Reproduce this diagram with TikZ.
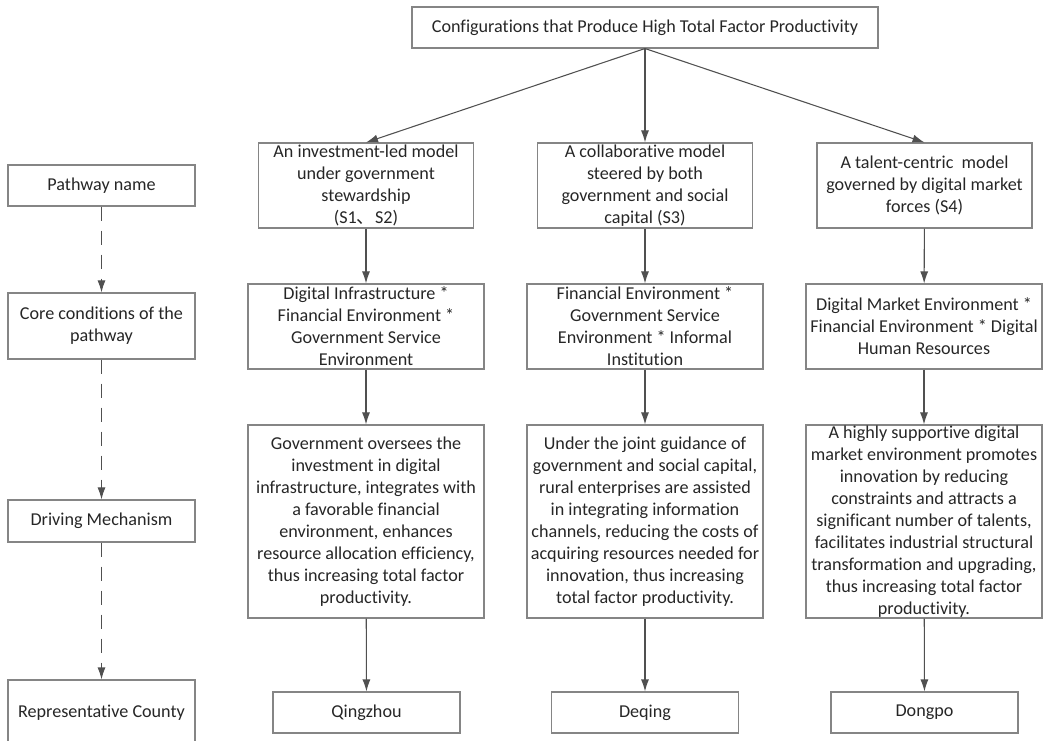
\documentclass[tikz,border=0pt]{standalone}
\usepackage{fontspec}
\setmainfont{Carlito}[Ligatures={CommonOff}]
\newfontfamily\cjk{Noto Sans CJK SC}
\usepackage{tikz}
\usetikzlibrary{arrows.meta,positioning}

\definecolor{boxgray}{HTML}{858585}
\definecolor{linegray}{HTML}{505050}
\definecolor{textgray}{HTML}{262626}

\tikzset{
    cell/.style 2 args={draw=boxgray, line width=0.8pt, align=center, inner xsep=1pt, inner ysep=0pt,
        text=textgray, font=\fontsize{13.6}{16.5}\selectfont,
        minimum width=#1*0.75pt, minimum height=#2*0.75pt},
    link/.style={->, draw=linegray, line width=0.8pt},
    guide/.style={link, dash pattern=on 11pt off 7pt}
}

\begin{document}
\begin{tikzpicture}[x=0.75pt, y=-0.75pt, >={Latex[length=9pt,width=6pt]}]
    \useasboundingbox (0,0) rectangle (1043,741);
    \path
    % title
    (645,27.5) node[cell={466}{41}] (top) {Configurations that Produce High Total Factor Productivity}
    % left column
    (101.5,185.5) node[cell={187}{41}] (name) {Pathway name}
    (101.5,326)   node[cell={187}{66}] (core) {Core conditions of the\\pathway}
    (101.5,521)   node[cell={187}{42}] (mech) {Driving Mechanism}
    (101.5,712.5) node[cell={187}{65}] (county) {Representative County}
    % pathway names
    (366,185.5) node[cell={215}{85}] (p1) {An investment-led model\\under government\\stewardship\\(S1{\cjk 、}S2)}
    (645,185.5) node[cell={215}{85}] (p2) {A collaborative model\\steered by both\\government and social\\capital (S3)}
    (924.5,185.5) node[cell={215}{85}] (p3) {A talent-centric\ \ model\\governed by digital market\\forces (S4)}
    % core conditions
    (366,326.5) node[cell={236}{85}] (c1) {Digital Infrastructure *\\Financial Environment *\\Government Service\\Environment}
    (645,326.5) node[cell={236}{85}] (c2) {Financial Environment *\\Government Service\\Environment * Informal\\Institution}
    (924,326.5) node[cell={236}{85}] (c3) {Digital Market Environment *\\Financial Environment * Digital\\Human Resources}
    % driving mechanisms
    (366,521.5) node[cell={236}{193}] (m1) {Government oversees the\\investment in digital\\infrastructure, integrates with\\a favorable financial\\environment, enhances\\resource allocation efficiency,\\thus increasing total factor\\productivity.}
    (645,521.5) node[cell={236}{193}] (m2) {Under the joint guidance of\\government and social capital,\\rural enterprises are assisted\\in integrating information\\channels, reducing the costs of\\acquiring resources needed for\\innovation, thus increasing\\total factor productivity.}
    (924,521.5) node[cell={236}{193}] (m3) {A highly supportive digital\\market environment promotes\\innovation by reducing\\constraints and attracts a\\significant number of talents,\\facilitates industrial structural\\transformation and upgrading,\\thus increasing total factor\\productivity.}
    % counties
    (366.5,712.5) node[cell={187}{41}] (b1) {Qingzhou}
    (645,712.5)   node[cell={187}{41}] (b2) {Deqing}
    (924.5,712.5) node[cell={187}{41}] (b3) {Dongpo};

    \draw[link] (top.south) -- (p1.north);
    \draw[link] (top.south) -- (p2.north);
    \draw[link] (top.south) -- (p3.north);
    \foreach \i in {1,2,3} {
        \draw[link] (p\i) -- (c\i);
        \draw[link] (c\i) -- (m\i);
        \draw[link] (m\i) -- (b\i);
    }
    \draw[guide] (name) -- (core);
    \draw[guide] (core) -- (mech);
    \draw[guide] (mech) -- (county);
\end{tikzpicture}
\end{document}
